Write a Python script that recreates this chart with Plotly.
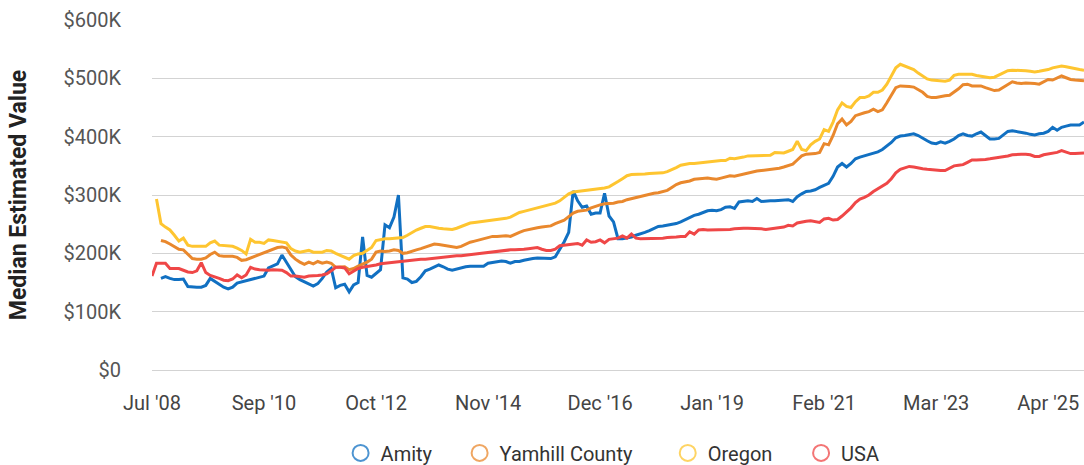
import plotly.graph_objects as go
import pandas as pd

# Monthly categories (one month is absent in the source between Jul '08 and Sep '10)
months = pd.date_range("2008-07-01", "2025-12-01", freq="MS")
months = months.drop(pd.Timestamp("2010-02-01"))
categories = [d.strftime("%b '%y") for d in months]

# Values in $K
amity = [
    None, None, 157, 160, 157, 155, 155, 156, 143, 142,
    142, 142, 145, 157, 152, 147, 142, 139, 142, 149,
    151, 153, 155, 157, 159, 161, 175, 178, 182, 197,
    185, 171, 160, 155, 151, 147, 144, 148, 157, 168,
    174, 141, 145, 147, 134, 146, 150, 228, 162, 159,
    166, 172, 249, 244, 262, 300, 158, 156, 150, 152,
    160, 170, 173, 176, 180, 177, 173, 171, 173, 176,
    177, 178, 178, 178, 178, 183, 184, 186, 187,
    186, 183, 186, 186, 188, 190, 191, 192, 192, 192,
    191, 194, 206, 220, 236, 307, 290, 279, 281, 267,
    269, 269, 303, 264, 254, 225, 225, 226, 228, 231,
    233, 236, 239, 242, 246, 247, 248, 249, 251, 254,
    258, 262, 265, 267, 270, 273, 274, 273, 275, 279,
    280, 277, 288, 289, 290, 289, 294, 289, 290, 290,
    290, 291, 291, 292, 289, 297, 302, 306, 307, 309,
    313, 317, 320, 332, 348, 354, 348, 354, 362, 365,
    367, 370, 371, 374, 378, 384, 390, 398, 401, 402,
    403, 405, 402, 397, 393, 389, 388, 391, 389, 392,
    396, 402, 405, 402, 401, 405, 408, 402, 396, 396,
    397, 403, 409, 410, 409, 408, 406, 404, 403, 405,
    406, 409, 416, 411, 416, 418, 420, 420, 420, 425,
]

yamhill = [
    None, None, 222, 220, 216, 211, 207, 206, 198, 191,
    190, 190, 192, 198, 202, 196, 195, 195, 195, 193,
    188, 189, 192, 195, 198, 201, 204, 208, 210, 211,
    209, 197, 190, 185, 181, 185, 182, 186, 183, 185,
    183, 176, 177, 177, 172, 174, 178, 181, 185, 190,
    202, 204, 203, 204, 206, 205, 200, 201, 204, 206,
    208, 211, 214, 216, 215, 214, 213, 211, 210, 212,
    216, 219, 221, 223, 224, 227, 229, 229, 230,
    230, 229, 233, 236, 239, 241, 242, 244, 245, 246,
    247, 251, 254, 257, 263, 269, 272, 273, 274, 278,
    281, 283, 285, 285, 286, 288, 289, 292, 294, 296,
    297, 299, 301, 303, 304, 306, 308, 313, 318, 321,
    322, 324, 327, 328, 329, 329, 328, 327, 329, 331,
    333, 332, 334, 336, 338, 340, 341, 342, 343, 344,
    344, 346, 348, 350, 353, 360, 367, 370, 370, 371,
    373, 388, 386, 402, 422, 430, 420, 426, 436, 439,
    441, 443, 447, 443, 446, 458, 470, 484, 487, 487,
    486, 485, 481, 476, 469, 467, 467, 469, 470, 471,
    476, 482, 489, 490, 487, 487, 487, 484, 481, 479,
    480, 485, 490, 494, 492, 491, 492, 492, 491, 490,
    494, 498, 497, 500, 504, 501, 498, 497, 497, 496,
]

oregon = [
    None, 293, 251, 245, 240, 231, 221, 226, 214, 212,
    212, 212, 212, 218, 221, 214, 213, 212, 212, 209,
    205, 199, 224, 219, 219, 217, 223, 222, 221, 220,
    218, 208, 204, 202, 203, 205, 202, 202, 202, 205,
    204, 200, 197, 194, 190, 196, 199, 200, 205, 210,
    222, 224, 225, 225, 226, 226, 227, 231, 236, 240,
    243, 246, 246, 244, 243, 242, 241, 241, 243, 246,
    250, 252, 253, 254, 255, 256, 257, 257, 259,
    260, 262, 266, 270, 272, 274, 275, 277, 279, 281,
    283, 286, 290, 296, 302, 305, 306, 307, 307, 308,
    309, 310, 312, 314, 318, 323, 328, 333, 335, 335,
    336, 336, 337, 337, 338, 338, 340, 343, 347, 351,
    353, 354, 354, 355, 355, 356, 357, 358, 359, 359,
    363, 362, 363, 365, 367, 367, 367, 367, 367, 368,
    373, 372, 372, 375, 378, 392, 378, 376, 386, 392,
    396, 412, 409, 425, 446, 458, 452, 450, 460, 467,
    467, 470, 476, 476, 480, 490, 505, 518, 524, 521,
    518, 515, 509, 504, 499, 497, 496, 496, 495, 497,
    505, 507, 507, 507, 507, 505, 504, 502, 501, 502,
    506, 510, 513, 514, 514, 514, 513, 512, 511, 512,
    513, 515, 518, 520, 521, 520, 518, 517, 515, 514,
]

usa = [
    161, 183, 183, 183, 174, 174, 174, 171, 168, 167,
    170, 184, 167, 162, 160, 157, 154, 153, 156, 163,
    158, 163, 176, 173, 172, 171, 171, 172, 172, 171,
    167, 161, 161, 160, 159, 161, 161, 162, 163, 165,
    170, 176, 176, 175, 165, 170, 174, 176, 177, 178,
    180, 182, 183, 184, 185, 186, 187, 188, 188, 189,
    190, 190, 191, 192, 193, 193, 194, 195, 196, 196,
    197, 198, 199, 200, 200, 202, 203, 204, 205,
    205, 206, 206, 206, 207, 208, 209, 210, 207, 205,
    205, 207, 213, 214, 214, 216, 217, 214, 223, 219,
    220, 223, 218, 224, 225, 226, 230, 226, 233, 226,
    225, 225, 225, 226, 226, 226, 227, 227, 228, 229,
    229, 237, 233, 240, 241, 240, 240, 240, 240, 241,
    241, 242, 243, 243, 243, 243, 242, 242, 241, 242,
    243, 244, 245, 248, 247, 252, 254, 255, 256, 254,
    253, 259, 260, 257, 258, 264, 271, 278, 287, 293,
    296, 300, 306, 311, 315, 320, 328, 338, 344, 347,
    349, 348, 346, 345, 344, 343, 342, 342, 342, 346,
    350, 351, 352, 356, 360, 360, 360, 361, 362, 363,
    364, 365, 367, 369, 370, 370, 370, 369, 366, 366,
    369, 370, 371, 373, 376, 374, 371, 371, 372, 372,
]

series_names = ["Amity", "Yamhill County", "Oregon", "USA"]
series_values = [amity, yamhill, oregon, usa]
colors = ["#1170c2", "#e9882d", "#fec530", "#ef4747"]
legend_ids = ["legend", "legend2", "legend3", "legend4"]
legend_x = [0.3142, 0.4240, 0.6160, 0.7390]

y_tick_values = [0, 100, 200, 300, 400, 500, 600]
y_tick_labels = ["$0", "$100K", "$200K", "$300K", "$400K", "$500K", "$600K"]

fig = go.Figure()

for name, vals, col in zip(series_names, series_values, colors):
    fig.add_trace(go.Scatter(
        x=categories, y=[None if v is None else v * 1000 for v in vals],
        mode="lines", name=name, showlegend=False,
        line=dict(color=col, width=3), hoverinfo="skip",
    ))

for name, col, lid in zip(series_names, colors, legend_ids):
    fig.add_trace(go.Scatter(
        x=[None], y=[None], mode="markers", name=name, showlegend=True,
        legend=lid,
        marker=dict(symbol="circle-open", size=16, color=col, opacity=0.75,
                    line=dict(width=2, color=col)),
    ))

legend_style = dict(orientation="h", xanchor="left", xref="container",
                    yref="container", y=0.026, yanchor="middle",
                    font=dict(size=20, color="#333"), itemclick=False,
                    itemdoubleclick=False, bgcolor="rgba(0,0,0,0)")

fig.update_layout(
    width=1084, height=465,
    margin=dict(l=152, r=0, t=20, b=95, autoexpand=False),
    plot_bgcolor="white", paper_bgcolor="white",
    font=dict(family="Roboto", size=20, color="#555"),
    legend=dict(x=legend_x[0], **legend_style),
    legend2=dict(x=legend_x[1], **legend_style),
    legend3=dict(x=legend_x[2], **legend_style),
    legend4=dict(x=legend_x[3], **legend_style),
    xaxis=dict(
        type="category", range=[0, len(categories) - 1],
        tickmode="array", tickvals=categories[::25], ticktext=categories[::25],
        showgrid=False, showline=False, zeroline=False, ticks="",
        tickfont=dict(size=20, color="#444"), ticklabelstandoff=19,
    ),
    yaxis=dict(
        range=[0, 600000],
        tickmode="array", tickvals=[v * 1000 for v in y_tick_values],
        ticktext=y_tick_labels,
        showgrid=True, gridcolor="#d3d3d3", gridwidth=1,
        zeroline=True, zerolinecolor="#d3d3d3", zerolinewidth=1,
        showline=False, ticks="",
        tickfont=dict(size=20, color="#555"), ticklabelstandoff=30,
        title=dict(text="Median Estimated Value", standoff=30,
                   font=dict(size=23, color="#222", weight="bold")),
    ),
)

fig.write_html("out.html", config={"displayModeBar": False},
               post_script="document.body.style.margin='0px';")
